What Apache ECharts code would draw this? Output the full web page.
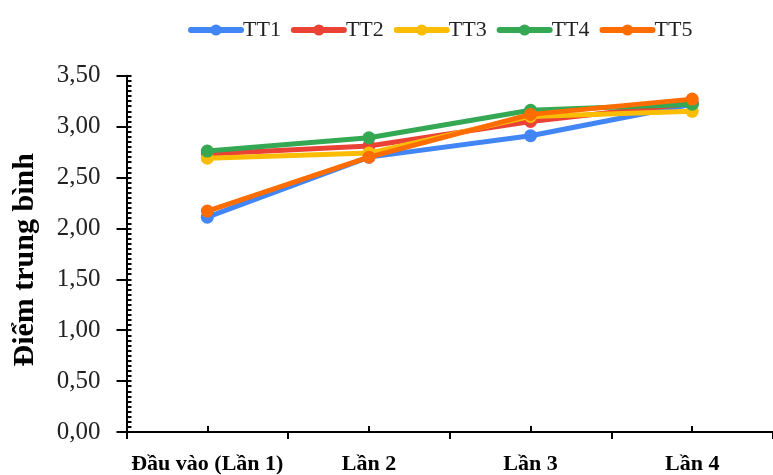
<!DOCTYPE html>
<html>
<head>
<meta charset="utf-8">
<script src="https://cdn.jsdelivr.net/npm/echarts@6/dist/echarts.min.js"></script>
<style>
html,body{margin:0;padding:0;background:#fff;}
#chart{width:773px;height:475px;}
</style>
</head>
<body>
<div id="chart"></div>
<script>
const categories = ['Đầu vào (Lần 1)', 'Lần 2', 'Lần 3', 'Lần 4'];
const seriesNames = ['TT1', 'TT2', 'TT3', 'TT4', 'TT5'];
const TT1 = [2.11, 2.70, 2.91, 3.22];
const TT2 = [2.73, 2.81, 3.05, 3.23];
const TT3 = [2.69, 2.74, 3.10, 3.15];
const TT4 = [2.76, 2.89, 3.16, 3.22];
const TT5 = [2.17, 2.70, 3.12, 3.27];
const colors = ['#4285F4', '#EA4335', '#FBBC04', '#34A853', '#FF6D01'];
const yTitle = 'Điểm trung bình';

const seriesData = [TT1, TT2, TT3, TT4, TT5];
const font = 'Liberation Serif, Times New Roman, serif';

const chart = echarts.init(document.getElementById('chart'), null, {renderer: 'canvas'});
chart.setOption({
  animation: false,
  color: colors,
  legend: {
    left: 183,
    top: 14,
    itemWidth: 50,
    itemHeight: 14,
    itemGap: 10,
    itemStyle: {borderWidth: 0},
    lineStyle: {width: 6, cap: 'round'},
    textStyle: {fontFamily: font, fontSize: 22, color: '#222', padding: [0,0,0,-3]},
    data: seriesNames
  },
  grid: {left: 126.5, top: 75.7, bottom: 40.5, width: 656, containLabel: false},
  xAxis: [{
    type: 'category',
    data: categories,
    boundaryGap: true,
    axisLine: {show: true, lineStyle: {color: '#000', width: 2}},
    axisTick: {show: true, alignWithLabel: false, length: 7, lineStyle: {color: '#000', width: 2}},
    axisLabel: {fontFamily: font, fontSize: 22, fontWeight: 'bold', color: '#000', margin: 21, interval: 0},
    splitLine: {show: false}
  }, {
    type: 'category',
    data: categories,
    position: 'bottom',
    boundaryGap: true,
    axisLine: {show: false},
    axisTick: {show: true, inside: true, alignWithLabel: true, length: 6, lineStyle: {color: '#000', width: 2}},
    axisLabel: {show: false},
    splitLine: {show: false}
  }],
  yAxis: [{
    type: 'value',
    min: 0, max: 3.5, interval: 0.5,
    name: yTitle,
    nameLocation: 'middle',
    nameRotate: 90,
    nameGap: 86,
    nameTextStyle: {fontFamily: font, fontSize: 30, fontWeight: 'bold', color: '#000', padding: [0, 0, 0, -12]},
    axisLine: {show: true, lineStyle: {color: '#000', width: 2}},
    axisTick: {show: true, length: 10, lineStyle: {color: '#000', width: 2}},
    axisLabel: {fontFamily: font, fontSize: 25, color: '#222', margin: 26,
      formatter: v => v.toFixed(2).replace('.', ',')},
    splitLine: {show: false}
  }, {
    type: 'value',
    min: 0, max: 3.5, interval: 0.5,
    position: 'left',
    axisLine: {show: false},
    axisTick: {show: true, inside: true, length: 5, lineStyle: {color: '#000', width: 2}},
    minorTick: {show: true, splitNumber: 10, length: 5, lineStyle: {color: '#000', width: 2}},
    axisLabel: {show: false},
    splitLine: {show: false}
  }],
  series: seriesNames.map((n, i) => ({
    name: n,
    type: 'line',
    data: seriesData[i],
    symbol: 'circle',
    symbolSize: 13,
    lineStyle: {width: 5, cap: 'round', join: 'round'},
    itemStyle: {color: colors[i]},
    z: 2 + i
  }))
});
</script>
</body>
</html>
